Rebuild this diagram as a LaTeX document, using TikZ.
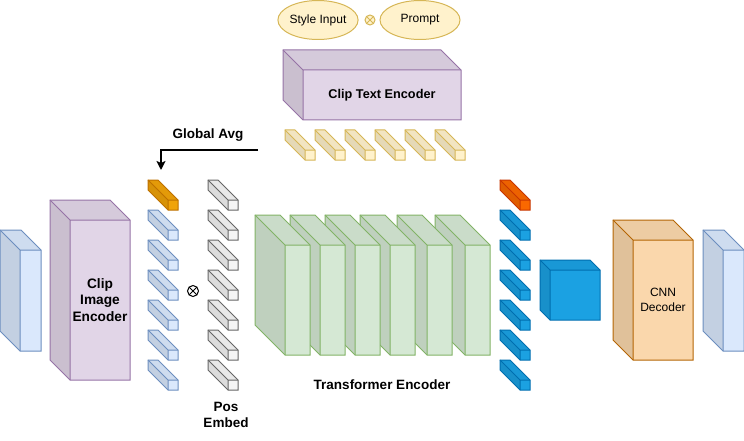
\documentclass[tikz,border=0pt]{standalone}
\usepackage{fontspec}
\setmainfont{Liberation Sans}
\usetikzlibrary{shapes.geometric,arrows.meta}
\definecolor{purF}{HTML}{E1D5E7}\definecolor{purD}{HTML}{9673A6}
\definecolor{yelF}{HTML}{FFF2CC}\definecolor{yelD}{HTML}{D6B656}
\definecolor{lbF}{HTML}{DAE8FC}\definecolor{lbD}{HTML}{6C8EBF}
\definecolor{grF}{HTML}{D5E8D4}\definecolor{grD}{HTML}{82B366}
\definecolor{gyF}{HTML}{F5F5F5}\definecolor{gyD}{HTML}{666666}
\definecolor{orF}{HTML}{F0A30A}\definecolor{orD}{HTML}{BD7000}
\definecolor{roF}{HTML}{FA6800}\definecolor{roD}{HTML}{C73500}
\definecolor{dbF}{HTML}{1BA1E2}\definecolor{dbD}{HTML}{006EAF}
\definecolor{peF}{HTML}{FAD7AC}\definecolor{peD}{HTML}{B46504}
% name, x, y, w, h, d, fill, draw
\newcommand\drawcube[8]{%
  \fill[#7] (#2,#3) -- ({#2+#4-#6},#3) -- ({#2+#4},{#3+#6}) -- ({#2+#4},{#3+#5}) -- ({#2+#6},{#3+#5}) -- (#2,{#3+#5-#6}) -- cycle;
  \fill[black,opacity=0.05] (#2,#3) -- ({#2+#4-#6},#3) -- ({#2+#4},{#3+#6}) -- ({#2+#6},{#3+#6}) -- cycle;
  \fill[black,opacity=0.1] (#2,#3) -- ({#2+#6},{#3+#6}) -- ({#2+#6},{#3+#5}) -- (#2,{#3+#5-#6}) -- cycle;
  \draw[cubeline,#8] (#2,#3) -- ({#2+#4-#6},#3) -- ({#2+#4},{#3+#6}) -- ({#2+#4},{#3+#5}) -- ({#2+#6},{#3+#5}) -- (#2,{#3+#5-#6}) -- cycle;
  \draw[cubeline,#8] (#2,#3) -- ({#2+#6},{#3+#6}) -- ({#2+#4},{#3+#6}) ({#2+#6},{#3+#6}) -- ({#2+#6},{#3+#5});
  \coordinate (#1) at ({#2+(#4+#6)/2},{#3+(#5+#6)/2});
}
\begin{document}
\begin{tikzpicture}[x=1pt,y=-1pt,
  cubeline/.style={line width=1pt,line join=miter},
  bl/.style={font=\fontsize{13.5}{16.5}\selectfont\bfseries,align=center,inner sep=0pt},
  rl/.style={font=\fontsize{12}{14.5}\selectfont,align=center,inner sep=0pt},
  ell/.style={ellipse,draw=yelD,fill=yelF,line width=1pt,minimum width=80pt,minimum height=39pt,inner sep=0pt,font=\fontsize{12}{14}\selectfont},
  otimes/.style={circle,minimum size=10pt,inner sep=0pt,line width=1pt,
    path picture={\draw[line width=1pt,#1] (path picture bounding box.north west) -- (path picture bounding box.south east)
      (path picture bounding box.north east) -- (path picture bounding box.south west);}}]
\useasboundingbox (0,0) rectangle (744,441);

% top inputs
\node[ell] (style) at (318,20) {Style Input};
\node[ell] (prompt) at (420,20) {Prompt};
\node[otimes=yelD,draw=yelD,fill=yelF] (otop) at (370,20) {};

% clip text encoder
\drawcube{cte}{283}{50}{178}{70}{20}{purF}{purD}
\node[bl,font=\fontsize{12.7}{15}\selectfont\bfseries] (ctel) at (cte) {Clip Text Encoder};
\foreach \i in {0,...,5}{
  \drawcube{ty\i}{285+30*\i}{130}{30}{30}{20}{yelF}{yelD}
}

% global avg arrow
\node[bl] (gavg) at (208,135) {Global Avg};
\coordinate (gaS) at (258,150);
\coordinate (gaE) at (161,170);
\draw[line width=1.5pt,-{Stealth[length=9pt,width=9pt,inset=2pt]}] (gaS) -| (gaE);

% input image
\drawcube{inimg}{0}{230}{41}{121}{20}{lbF}{lbD}
% clip image encoder
\drawcube{cie}{50}{200}{80}{180}{20}{purF}{purD}
\node[bl,font=\fontsize{13.7}{16.7}\selectfont\bfseries] (ciel) at (cie) {Clip\\Image\\Encoder};

% token column
\drawcube{cls}{148}{180}{30}{30}{20}{orF}{orD}
\foreach \i in {0,...,5}{
  \drawcube{tk\i}{148}{210+30*\i}{30}{30}{20}{lbF}{lbD}
}
\node[otimes=black,draw=black,minimum size=11pt] (omid) at (193,291) {};
\foreach \i in {0,...,6}{
  \drawcube{pe\i}{208}{180+30*\i}{30}{30}{20}{gyF}{gyD}
}
\node[bl] (posl) at (226,415) {Pos\\Embed};

% transformer encoder
\foreach \n/\xx in {t6/435,t5/397,t4/360,t3/325,t2/290,t1/255}{
  \drawcube{\n}{\xx}{215}{55}{140}{30}{grF}{grD}
}
\node[bl] (tlbl) at (382,385) {Transformer Encoder};

% output tokens
\drawcube{ocls}{500}{180}{30}{30}{20}{roF}{roD}
\foreach \i in {0,...,5}{
  \drawcube{ot\i}{500}{210+30*\i}{30}{30}{20}{dbF}{dbD}
}

% feature cube
\drawcube{feat}{540}{260}{60}{60}{10}{dbF}{dbD}
% cnn decoder
\drawcube{cnn}{613}{220}{80}{140}{20}{peF}{peD}
\node[rl] (cnnl) at (cnn) {CNN\\Decoder};
% output image
\drawcube{outimg}{703}{230}{41}{121}{20}{lbF}{lbD}
\end{tikzpicture}
\end{document}
